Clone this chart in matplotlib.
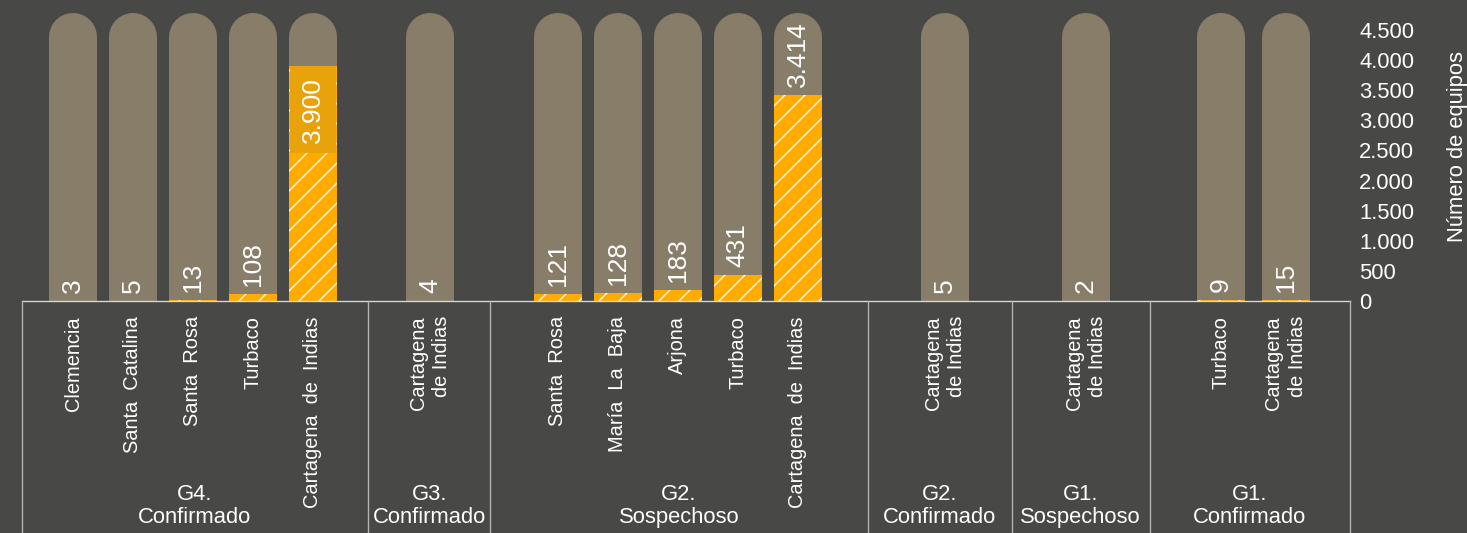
import matplotlib
matplotlib.use("Agg")
import matplotlib.pyplot as plt
from matplotlib.lines import Line2D
from matplotlib import transforms

# --- data -------------------------------------------------------------
groups = ["G4.\nConfirmado", "G3.\nConfirmado", "G2.\nSospechoso",
          "G2.\nConfirmado", "G1.\nSospechoso", "G1.\nConfirmado"]
municipios = [
    ["Clemencia", "Santa  Catalina", "Santa  Rosa", "Turbaco", "Cartagena  de  Indias"],
    ["Cartagena\nde Indias"],
    ["Santa  Rosa", "María  La  Baja", "Arjona", "Turbaco", "Cartagena  de  Indias"],
    ["Cartagena\nde Indias"],
    ["Cartagena\nde Indias"],
    ["Turbaco", "Cartagena\nde Indias"],
]
equipos = [
    [3, 5, 13, 108, 3900],
    [4],
    [121, 128, 183, 431, 3414],
    [5],
    [2],
    [9, 15],
]
y_ticks = [0, 500, 1000, 1500, 2000, 2500, 3000, 3500, 4000, 4500]

# --- style -------------------------------------------------------------
BG = "#484846"
TRACK = "#877D69"
ORANGE = "#FFAB00"
LABEL_BOX = "#E8A20C"
TXT = "#FFFFFF"
W, H, DPI = 1467, 533, 120
TRACK_TOP = 4380          # end of the rounded background column
BAR_W = 0.8
group_steps = [1.95, 2.13, 2.45, 2.35, 2.25]   # spacing between groups
inner_steps = [1.0, 1.0, 1.0, 1.0, 1.0, 1.08]  # spacing inside each group

plt.rcParams["font.family"] = ["Liberation Sans", "DejaVu Sans"]
plt.rcParams["hatch.linewidth"] = 0.8
plt.rcParams["hatch.color"] = "white"


def fx(px):
    return px / W


def fy(py):
    return 1 - py / H


def fmt(v):
    return f"{v:,}".replace(",", ".")


fig = plt.figure(figsize=(W / DPI, H / DPI), dpi=DPI, facecolor=BG)
ax = fig.add_axes([fx(22), fy(301), fx(1350) - fx(22), fy(0) - fy(301)])
ax.set_facecolor(BG)

# positions of every bar, grouped
pos_groups = []
x = 0.0
for gi, names in enumerate(municipios):
    row = []
    for j in range(len(names)):
        if gi > 0 and j == 0:
            x += group_steps[gi - 1]
        elif j > 0:
            x += inner_steps[gi]
        row.append(x)
    pos_groups.append(row)

xs = [p for row in pos_groups for p in row]
vals = [v for row in equipos for v in row]
names_flat = [n for row in municipios for n in row]

y_top = 4500 * 301 / 271
ax.set_ylim(0, y_top)
x_left = xs[0] - 51 / 60
x_right = x_left + 1328 / 60
ax.set_xlim(x_left, x_right)

# rounded background columns
track_lw = 48 * 72 / DPI
for xp in xs:
    ax.plot([xp, xp], [-1000, TRACK_TOP], color=TRACK, lw=track_lw,
            solid_capstyle="round", zorder=1)

# hatched value bars
ax.bar(xs, vals, width=BAR_W, color=ORANGE, edgecolor="white",
       linewidth=0, hatch="//", zorder=2)

# value labels
lab_fs = 15.8
for xp, v in zip(xs, vals):
    if v >= 3800:
        pad_px = 10.5
        ax.annotate(fmt(v), (xp, v), xytext=(0, -pad_px * 72 / DPI),
                    textcoords="offset points", rotation=90,
                    ha="center", va="top", color=TXT, fontsize=lab_fs,
                    bbox=dict(boxstyle="square,pad=0.4", fc=LABEL_BOX, ec="none"),
                    zorder=4)
    else:
        ax.annotate(fmt(v), (xp, v), xytext=(0, 8 * 72 / DPI),
                    textcoords="offset points", rotation=90,
                    ha="center", va="bottom", color=TXT, fontsize=lab_fs,
                    zorder=4)

# axes styling
for s in ["left", "right", "top"]:
    ax.spines[s].set_visible(False)
ax.spines["bottom"].set_color("#D9D9D9")
ax.spines["bottom"].set_linewidth(0.8)
ax.set_xticks([])
ax.yaxis.tick_right()
ax.set_yticks(y_ticks)
ax.set_yticklabels([fmt(t) for t in y_ticks])
ax.tick_params(axis="y", length=0, pad=9 * 72 / DPI, labelsize=13.2,
               labelcolor=TXT)
for lbl in ax.get_yticklabels():
    lbl.set_horizontalalignment("left")

fig.text(fx(1458), fy(147), "Número de equipos", rotation=90,
         ha="center", va="center", color=TXT, fontsize=13.2)

# category labels
tr = transforms.blended_transform_factory(ax.transData, fig.transFigure)
for xp, name in zip(xs, names_flat):
    ax.text(xp, fy(316), name, transform=tr, rotation=90, ha="center",
            va="top", multialignment="right", color=TXT, fontsize=12,
            linespacing=1.3, clip_on=False)

# group separators and group labels
bounds = [x_left]
for gi in range(len(pos_groups) - 1):
    bounds.append((pos_groups[gi][-1] + pos_groups[gi + 1][0]) / 2 - 0.06)
bounds.append(x_right)
for b in bounds:
    fig.add_artist(Line2D([b, b], [fy(301), 0], transform=tr,
                          color="#B5B5B5", lw=0.8))
for gi, g in enumerate(groups):
    cx = (bounds[gi] + bounds[gi + 1]) / 2
    ax.text(cx, fy(506), g, transform=tr, ha="center", va="center",
            color=TXT, fontsize=13.2, linespacing=1.15, clip_on=False)

fig.savefig("out.png", dpi=DPI, facecolor=BG)
